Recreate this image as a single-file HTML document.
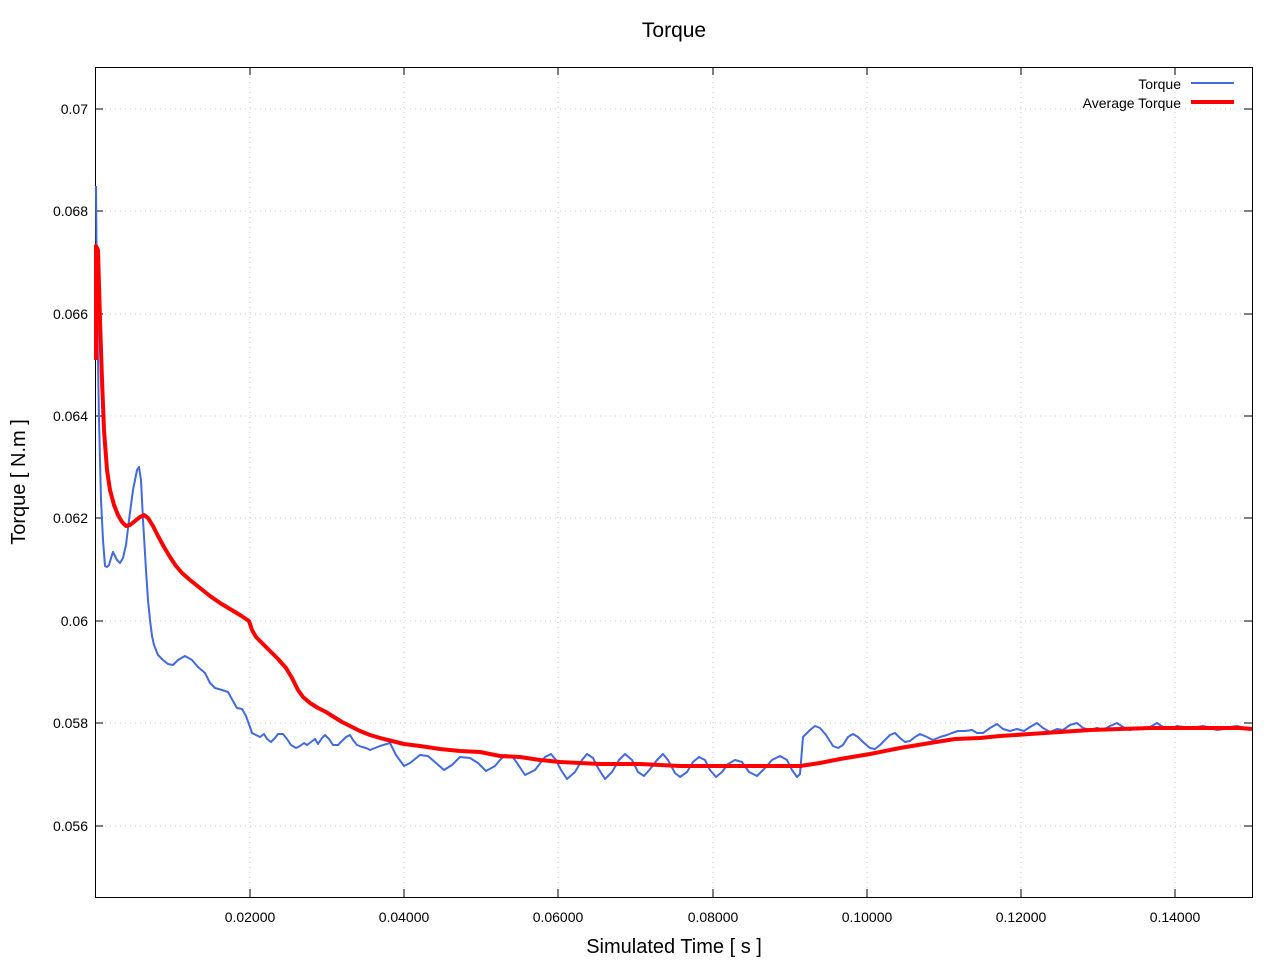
<!DOCTYPE html>
<html><head><meta charset="utf-8"><style>body{margin:0;background:#fff}svg{display:block}</style></head><body>
<svg width="1280" height="960" xmlns="http://www.w3.org/2000/svg" font-family="Liberation Sans, DejaVu Sans, sans-serif">
<rect width="1280" height="960" fill="#fff"/>
<g stroke="#c8c8c8" stroke-width="1" stroke-dasharray="1,4">
<line x1="95" x2="1252" y1="109" y2="109"/><line x1="95" x2="1252" y1="211" y2="211"/><line x1="95" x2="1252" y1="314" y2="314"/><line x1="95" x2="1252" y1="416" y2="416"/><line x1="95" x2="1252" y1="518" y2="518"/><line x1="95" x2="1252" y1="621" y2="621"/><line x1="95" x2="1252" y1="723" y2="723"/><line x1="95" x2="1252" y1="826" y2="826"/>
<line y1="67" y2="897" x1="250" x2="250"/><line y1="67" y2="897" x1="404" x2="404"/><line y1="67" y2="897" x1="558" x2="558"/><line y1="67" y2="897" x1="713" x2="713"/><line y1="67" y2="897" x1="867" x2="867"/><line y1="67" y2="897" x1="1021" x2="1021"/><line y1="67" y2="897" x1="1175" x2="1175"/>
</g>
<g stroke="#000" stroke-width="1">
<rect x="95.5" y="67.5" width="1157" height="830" fill="none"/>
<path d="M95 109h8M95 211h8M95 314h8M95 416h8M95 518h8M95 621h8M95 723h8M95 826h8M1252 109h-8M1252 211h-8M1252 314h-8M1252 416h-8M1252 518h-8M1252 621h-8M1252 723h-8M1252 826h-8M250 897v-8M404 897v-8M558 897v-8M713 897v-8M867 897v-8M1021 897v-8M1175 897v-8M250 67v8M404 67v8M558 67v8M713 67v8M867 67v8M1021 67v8M1175 67v8"/>
</g>
<g font-size="14" fill="#000" text-anchor="end">
<text x="88" y="114">0.07</text><text x="88" y="216">0.068</text><text x="88" y="319">0.066</text><text x="88" y="421">0.064</text><text x="88" y="523">0.062</text><text x="88" y="626">0.06</text><text x="88" y="728">0.058</text><text x="88" y="831">0.056</text>
</g>
<g font-size="14" fill="#000" text-anchor="middle">
<text x="250" y="922">0.02000</text><text x="404" y="922">0.04000</text><text x="558" y="922">0.06000</text><text x="713" y="922">0.08000</text><text x="867" y="922">0.10000</text><text x="1021" y="922">0.12000</text><text x="1175" y="922">0.14000</text>
</g>
<text x="674" y="37" font-size="21" text-anchor="middle">Torque</text>
<text x="674" y="953" font-size="20" text-anchor="middle">Simulated Time [ s ]</text>
<text transform="translate(25,482) rotate(-90)" font-size="20" text-anchor="middle">Torque [ N.m ]</text>
<text x="1181" y="89" font-size="14" text-anchor="end">Torque</text>
<text x="1181" y="108" font-size="14" text-anchor="end">Average Torque</text>
<line x1="1191" x2="1234" y1="83" y2="83" stroke="#4169e1" stroke-width="2"/>
<line x1="1191" x2="1234" y1="102" y2="102" stroke="#f00" stroke-width="4"/>
<polyline fill="none" stroke="#4169e1" stroke-width="2" stroke-linejoin="round" points="96,186 97,300 99,420 101,500 103,540 105,566 107,567 109,565 112,555 113,552 115,556 117,560 120,563 123,558 126,545 129,520 133,490 137,470 139,467 141,480 143,520 146,570 148,600 150,620 152,636 154,645 158,655 163,660 168,664 173,665 178,660 185,656 192,660 198,667 205,673 210,683 215,688 222,690 228,692 233,701 237,708 242,709 246,716 250,727 252,733 256,735 260,737 264,734 267,739 271,742 275,738 278,734 283,734 287,739 291,745 296,748 300,746 304,743 307,745 311,742 315,739 318,744 322,738 325,735 329,739 333,745 338,745 342,741 346,737 350,735 353,740 357,745 362,747 366,748 370,750 375,748 380,746 390,743 396,755 404,766 410,763 420,755 428,756 436,763 444,770 452,765 460,757 470,758 478,763 486,771 495,766 500,760 505,755 512,756 517,763 525,775 535,770 545,757 551,754 556,760 561,770 567,779 575,772 582,760 587,754 593,758 598,768 605,779 612,772 619,760 625,754 632,760 638,772 644,776 651,768 657,760 663,754 668,760 675,773 680,777 687,772 693,762 699,757 705,760 710,770 716,777 722,772 728,764 735,760 742,762 749,772 757,776 765,768 772,760 780,756 787,760 792,770 797,777 800,774 803,737 810,730 815,726 820,728 826,735 833,746 838,748 843,745 848,737 853,734 858,737 863,742 870,748 875,749 880,745 885,740 890,735 895,733 900,738 905,742 910,741 915,737 920,734 927,737 933,740 940,737 947,735 952,733 958,731 965,731 972,730 977,733 983,733 990,728 997,724 1003,729 1010,731 1017,729 1024,731 1030,727 1037,723 1043,728 1050,732 1057,729 1063,730 1070,725 1077,723 1083,728 1090,730 1097,728 1103,730 1110,726 1117,723 1123,727 1130,730 1137,728 1143,729 1150,727 1157,723 1163,727 1170,729 1177,726 1183,727 1190,728 1197,727 1203,726 1210,728 1217,730 1224,729 1230,727 1237,726 1244,728 1252,728"/>
<polyline fill="none" stroke="#f00" stroke-width="4" stroke-linejoin="round" points="96,360 96,246 98,250 100,320 102,380 104,430 107,470 110,490 114,505 118,515 122,522 126,526 130,525 135,521 140,517 144,515 148,518 153,526 158,536 164,547 170,557 176,566 182,573 190,580 200,588 210,596 220,603 230,609 240,615 249,621 252,630 256,637 262,643 270,651 278,659 286,668 292,678 298,690 303,697 310,703 318,708 326,712 334,717 342,722 350,726 360,731 370,735 380,738 392,741 404,744 420,746 440,749 460,751 480,752 500,756 520,757 540,760 560,762 580,763 600,764 640,764 680,766 720,766 760,766 800,766 820,763 840,759 870,754 900,748 930,743 955,739 980,738 1000,736 1030,734 1060,732 1090,730 1120,729 1150,728 1180,728 1210,728 1240,728 1252,729"/>
</svg>
</body></html>
